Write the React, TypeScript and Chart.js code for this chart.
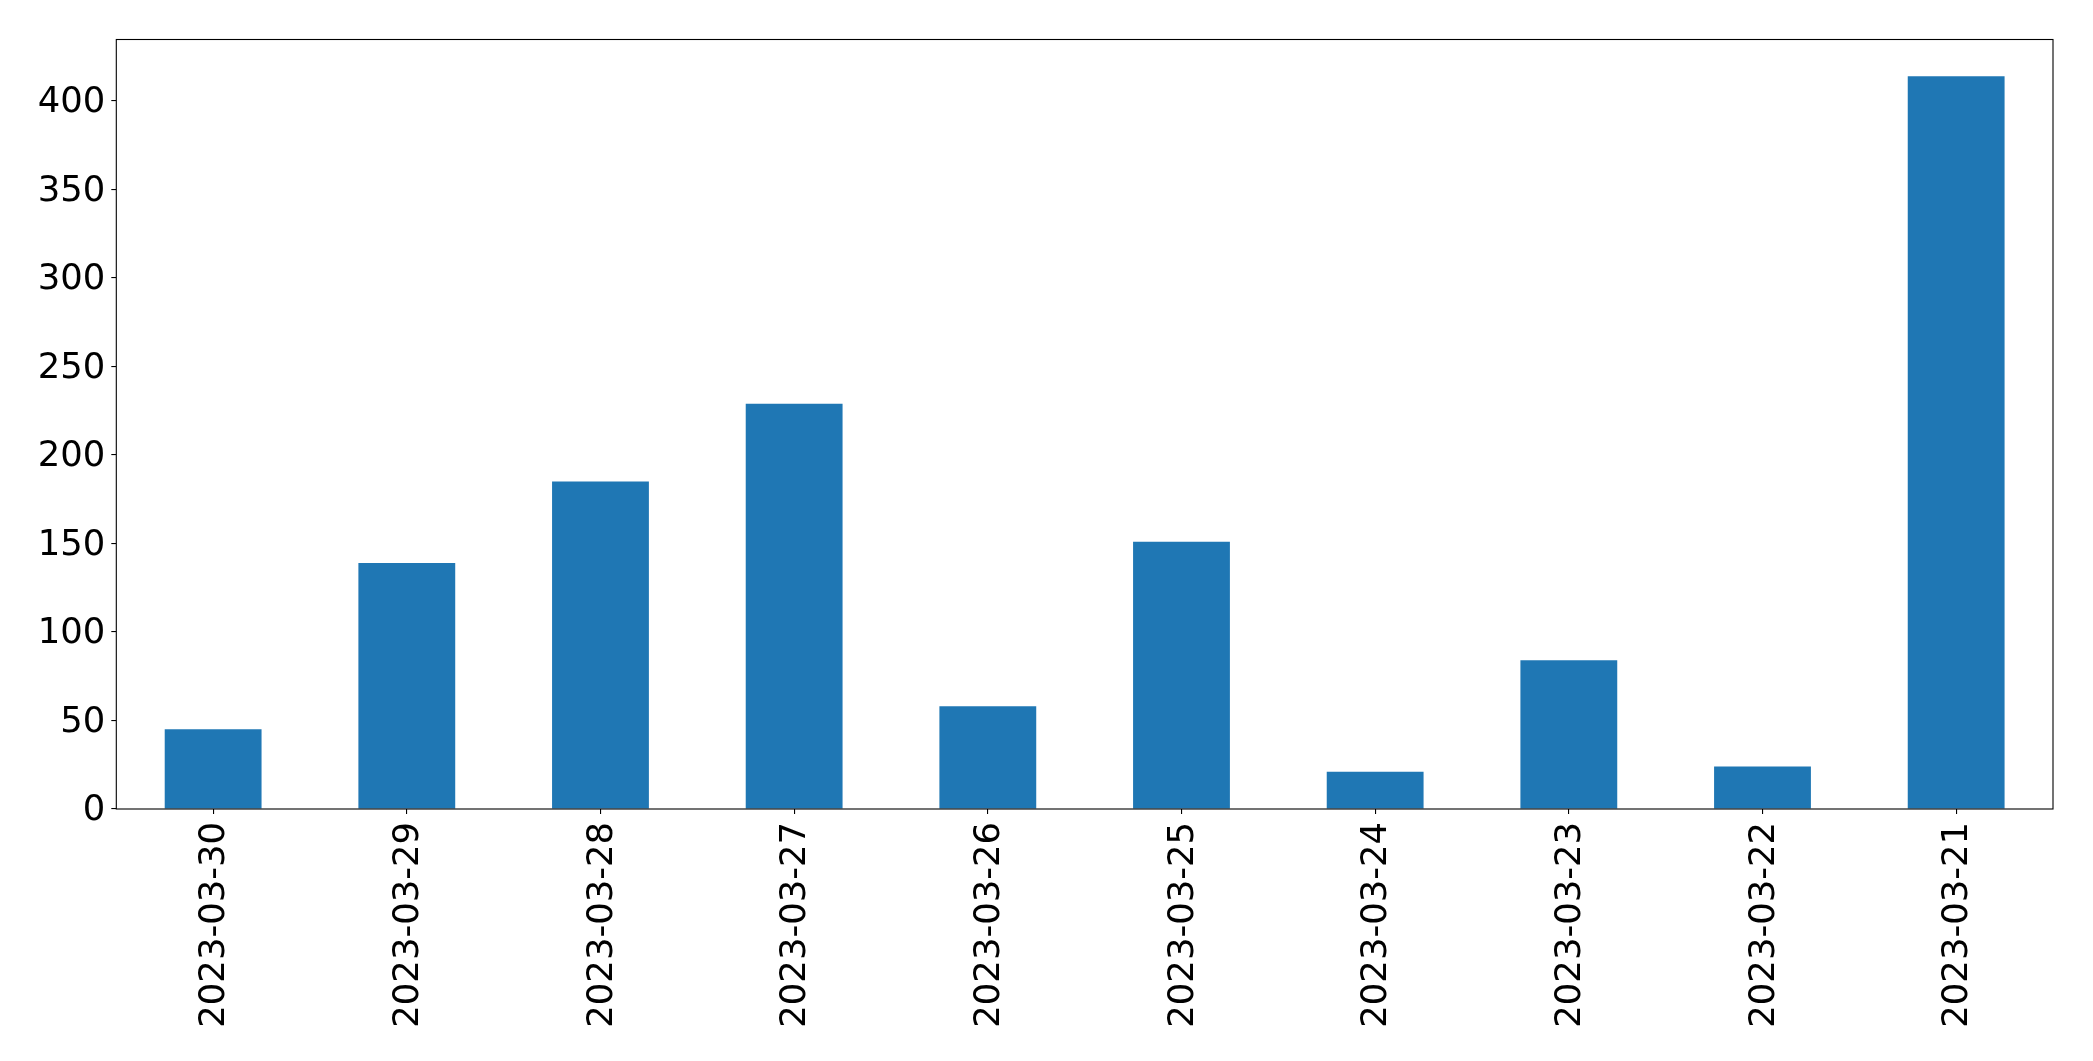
import React, { useEffect, useRef } from "react";
import { Chart, registerables } from "chart.js";

Chart.register(...registerables);

const categories: string[] = [
  "2023-03-30",
  "2023-03-29",
  "2023-03-28",
  "2023-03-27",
  "2023-03-26",
  "2023-03-25",
  "2023-03-24",
  "2023-03-23",
  "2023-03-22",
  "2023-03-21",
];

const counts: number[] = [45, 139, 185, 229, 58, 151, 21, 84, 24, 414];

const yTicks: number[] = [0, 50, 100, 150, 200, 250, 300, 350, 400];

const W = 2093;
const H = 1061;

const framePlugin = {
  id: "frame",
  afterDraw(chart: any) {
    const { ctx, chartArea } = chart;
    ctx.save();
    ctx.strokeStyle = "#000";
    ctx.lineWidth = 1.1;
    ctx.strokeRect(
      chartArea.left,
      chartArea.top,
      chartArea.right - chartArea.left,
      chartArea.bottom - chartArea.top
    );
    ctx.restore();
  },
};

export default function App() {
  const ref = useRef<HTMLCanvasElement | null>(null);

  useEffect(() => {
    document.body.style.margin = "0";
    if (!ref.current) return;
    const maxVal = Math.max(...counts) * 1.05;
    const font = { family: "'DejaVu Sans', sans-serif", size: 35.4 };
    const chart = new Chart(ref.current, {
      type: "bar",
      data: {
        labels: categories,
        datasets: [
          {
            data: counts,
            backgroundColor: "#1f77b4",
            borderWidth: 0,
            barPercentage: 0.5,
            categoryPercentage: 1,
          },
        ],
      },
      options: {
        responsive: false,
        animation: false,
        devicePixelRatio: 1,
        layout: { padding: { top: 39.5, right: 40, left: 0, bottom: 0 } },
        plugins: {
          legend: { display: false },
          tooltip: { enabled: false },
        },
        scales: {
          x: {
            type: "category",
            offset: true,
            border: { display: false },
            grid: {
              display: true,
              drawOnChartArea: false,
              drawTicks: true,
              tickLength: 5,
              color: "#000",
              lineWidth: 1.1,
              offset: false,
            },
            ticks: {
              color: "#000",
              font,
              maxRotation: 90,
              minRotation: 90,
              autoSkip: false,
              padding: 8,
              labelOffset: 2,
            },
            afterFit(scale: any) {
              scale.height = H - 809;
            },
          },
          y: {
            type: "linear",
            min: 0,
            max: maxVal,
            border: { display: false },
            grid: {
              display: true,
              drawOnChartArea: false,
              drawTicks: true,
              tickLength: 5,
              color: "#000",
              lineWidth: 1.1,
            },
            ticks: {
              color: "#000",
              font,
              stepSize: 50,
              includeBounds: false,
              padding: 6,
              labelOffset: 2,
              callback: (v: any) => (yTicks.includes(Number(v)) ? String(v) : ""),
            },
            afterFit(scale: any) {
              scale.width = 116.3;
            },
          },
        },
      },
      plugins: [framePlugin],
    });
    return () => chart.destroy();
  }, []);

  return (
    <canvas
      ref={ref}
      width={W}
      height={H}
      style={{ display: "block", width: W, height: H }}
    />
  );
}
